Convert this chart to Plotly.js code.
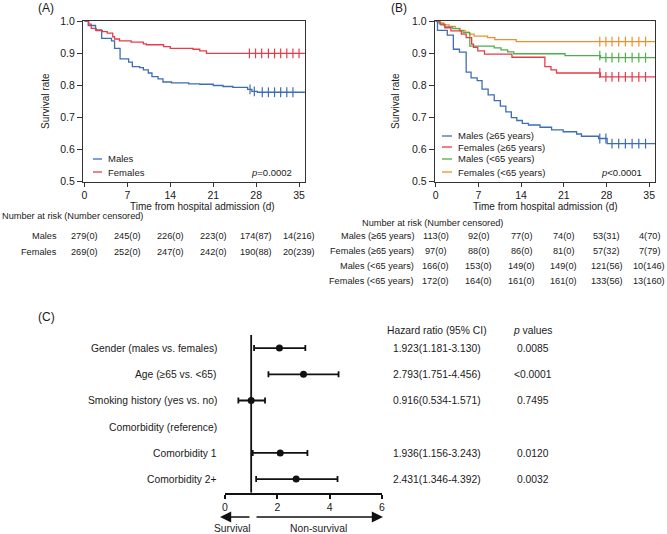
<!DOCTYPE html>
<html><head><meta charset="utf-8">
<script src="https://cdn.plot.ly/plotly-3.0.1.min.js"></script>
<style>html,body{margin:0;padding:0;background:#fff;}#chart{width:667px;height:534px;}</style>
</head><body><div id="chart"></div>
<script>
// ---------- Panel A data ----------
const daysTicks = [0, 7, 14, 21, 28, 35];
const aMalesT = [0, 0.6, 1.8, 2.8, 4.4, 4.9, 5.8, 7.2, 7.8, 9.0, 9.6, 10.4, 11.0, 12.0, 12.8, 14.2, 17.0, 18.8, 21.0, 22.6, 24.2, 26.6, 27.3, 28.2];
const aMalesS = [1.0, 0.986, 0.972, 0.946, 0.938, 0.915, 0.882, 0.872, 0.858, 0.855, 0.848, 0.838, 0.827, 0.82, 0.81, 0.807, 0.804, 0.803, 0.799, 0.796, 0.793, 0.787, 0.781, 0.778];
const aFemT = [0, 0.7, 1.1, 1.9, 2.9, 3.7, 4.6, 4.9, 5.7, 7.6, 9.6, 10.1, 12.9, 14.0, 17.7, 18.8, 19.9];
const aFemS = [1.0, 0.99, 0.977, 0.97, 0.967, 0.962, 0.951, 0.944, 0.938, 0.934, 0.929, 0.926, 0.92, 0.915, 0.912, 0.907, 0.899];
const aMalesCens = [27.0, 27.7, 29.0, 30.0, 31.0, 32.0, 33.0, 34.0];
const aFemCens = [26.9, 27.9, 28.9, 30.0, 31.0, 32.0, 33.0, 34.0, 35.0];
const aGroups = ["Males", "Females"];
const aRisk = [["279(0)", "245(0)", "226(0)", "223(0)", "174(87)", "14(216)"],
               ["269(0)", "252(0)", "247(0)", "242(0)", "190(88)", "20(239)"]];

// ---------- Panel B data ----------
const bM65T = [0, 0.3, 1.9, 2.9, 3.9, 5.0, 5.8, 6.8, 7.6, 8.6, 9.6, 10.6, 11.5, 12.4, 13.3, 14.2, 15.2, 17.1, 19.0, 20.9, 23.1, 23.9, 26.7, 28.1];
const bM65S = [1.0, 0.971, 0.956, 0.912, 0.903, 0.841, 0.823, 0.814, 0.788, 0.770, 0.752, 0.735, 0.717, 0.699, 0.690, 0.681, 0.676, 0.669, 0.661, 0.655, 0.648, 0.641, 0.634, 0.618];
const bF65T = [0, 0.7, 1.5, 2.5, 4.2, 5.0, 5.9, 6.2, 6.9, 8.0, 12.5, 17.9, 18.9, 19.8, 27.0];
const bF65S = [1.0, 0.990, 0.979, 0.969, 0.959, 0.948, 0.928, 0.918, 0.907, 0.897, 0.887, 0.858, 0.848, 0.838, 0.826];
const bMyT = [0, 0.3, 0.8, 1.5, 2.8, 3.9, 4.5, 5.6, 9.6, 10.7, 11.8, 12.8, 21.2, 27.0];
const bMyS = [1.0, 0.994, 0.988, 0.982, 0.976, 0.970, 0.964, 0.922, 0.916, 0.910, 0.904, 0.898, 0.892, 0.886];
const bFyT = [0, 0.7, 1.3, 2.2, 3.2, 4.0, 4.8, 5.5, 6.3, 8.5, 9.7, 13.2];
const bFyS = [1.0, 0.994, 0.988, 0.983, 0.977, 0.971, 0.965, 0.959, 0.953, 0.948, 0.942, 0.936];
const bCens = [26.9, 27.9, 28.9, 30.0, 31.1, 32.2, 33.3, 34.4];
const bGroups = ["Males (≥65 years)", "Females (≥65 years)", "Males (<65 years)", "Females (<65 years)"];
const bRisk = [["113(0)", "92(0)", "77(0)", "74(0)", "53(31)", "4(70)"],
               ["97(0)", "88(0)", "86(0)", "81(0)", "57(32)", "7(79)"],
               ["166(0)", "153(0)", "149(0)", "149(0)", "121(56)", "10(146)"],
               ["172(0)", "164(0)", "161(0)", "161(0)", "133(56)", "13(160)"]];

// ---------- Panel C data ----------
const cLabels = ["Gender (males vs. females)", "Age (≥65 vs. <65)", "Smoking history (yes vs. no)", "Comorbidity (reference)", "Comorbidity 1", "Comorbidity 2+"];
const cHR = [2.08, 3.0, 1.0, null, 2.11, 2.72];
const cLow = [1.11, 1.66, 0.51, null, 1.06, 1.19];
const cHigh = [3.07, 4.34, 1.53, null, 3.15, 4.3];
const cHRText = ["1.923(1.181-3.130)", "2.793(1.751-4.456)", "0.916(0.534-1.571)", "", "1.936(1.156-3.243)", "2.431(1.346-4.392)"];
const cPText = ["0.0085", "<0.0001", "0.7495", "", "0.0120", "0.0032"];
const cTicks = [0, 2, 4, 6];

// ---------- helpers ----------
const W = 667, H = 534;
const px = v => v / W;
const py = v => 1 - v / H;
const FONT = "Liberation Sans, Arial, Helvetica, sans-serif";
const TXT = "#1a1a1a";
const BLUE = "#3d6db5", RED = "#e63b4b", GREEN = "#4fae4a", ORANGE = "#f28e2b";
const endDay = 35.95;

function stepVal(T, S, t) { let v = S[0]; for (let i = 0; i < T.length; i++) if (T[i] <= t) v = S[i]; return v; }
function kmTrace(T, S, color, xa, ya) {
  return {x: T.concat([endDay]), y: S.concat([S[S.length - 1]]), type: "scatter", mode: "lines",
    line: {shape: "hv", color: color, width: 1.3}, xaxis: xa, yaxis: ya, showlegend: false, hoverinfo: "skip"};
}
function censTrace(T, S, C, color, xa, ya) {
  return {x: C, y: C.map(t => stepVal(T, S, t)), type: "scatter", mode: "markers",
    marker: {symbol: "line-ns", size: 7, line: {color: color, width: 1.2}}, xaxis: xa, yaxis: ya,
    showlegend: false, hoverinfo: "skip", cliponaxis: false};
}

const traces = [
  kmTrace(aMalesT, aMalesS, BLUE, "x", "y"), kmTrace(aFemT, aFemS, RED, "x", "y"),
  censTrace(aMalesT, aMalesS, aMalesCens, BLUE, "x", "y"), censTrace(aFemT, aFemS, aFemCens, RED, "x", "y"),
  kmTrace(bFyT, bFyS, ORANGE, "x2", "y2"), kmTrace(bMyT, bMyS, GREEN, "x2", "y2"),
  kmTrace(bF65T, bF65S, RED, "x2", "y2"), kmTrace(bM65T, bM65S, BLUE, "x2", "y2"),
  censTrace(bFyT, bFyS, bCens, ORANGE, "x2", "y2"), censTrace(bMyT, bMyS, bCens, GREEN, "x2", "y2"),
  censTrace(bF65T, bF65S, bCens, RED, "x2", "y2"), censTrace(bM65T, bM65S, bCens, BLUE, "x2", "y2")
];
const rowIdx = cLabels.map((_, i) => i);
const keep = rowIdx.filter(i => cHR[i] !== null);
traces.push({
  x: keep.map(i => cHR[i]), y: keep.map(i => i), type: "scatter", mode: "markers",
  marker: {symbol: "circle", size: 7, color: "#111"},
  error_x: {type: "data", symmetric: false, array: keep.map(i => cHigh[i] - cHR[i]),
            arrayminus: keep.map(i => cHR[i] - cLow[i]), color: "#111", thickness: 1.8, width: 3},
  xaxis: "x3", yaxis: "y3", showlegend: false, hoverinfo: "skip", cliponaxis: false
});

const kmAxisX = (dom, rng, anchor) => ({domain: dom, range: rng, anchor: anchor, tickvals: daysTicks,
  ticks: "outside", ticklen: 4, tickwidth: 1, tickcolor: "#333", showline: true, mirror: true,
  linecolor: "#333", linewidth: 1, showgrid: false, zeroline: false,
  tickfont: {family: FONT, size: 10.5, color: TXT}});
const kmAxisY = (anchor) => ({domain: [py(181.5), py(21)], range: [0.5, 1.0], anchor: anchor,
  tickvals: [0.5, 0.6, 0.7, 0.8, 0.9, 1.0], tickformat: ".1f", ticks: "outside", ticklen: 5, tickwidth: 1,
  tickcolor: "#333", showline: true, mirror: true, linecolor: "#333", linewidth: 1, showgrid: false,
  zeroline: false, tickfont: {family: FONT, size: 10.5, color: TXT}});

const ann = [];
const shapes = [];
function txt(text, x, y, opts) {
  ann.push(Object.assign({text: text, x: x, y: y, xref: "paper", yref: "paper", showarrow: false,
    xanchor: "left", yanchor: "middle", font: {family: FONT, size: 9.2, color: TXT}}, opts || {}));
}
// panel letters
txt("(A)", px(36), py(8), {font: {family: FONT, size: 12, color: TXT}});
txt("(B)", px(389), py(8), {font: {family: FONT, size: 12, color: TXT}});
txt("(C)", px(36), py(317), {font: {family: FONT, size: 12, color: TXT}});
// axis titles
txt("Survival rate", px(45), py(101), {xanchor: "center", textangle: -90, font: {family: FONT, size: 10, color: TXT}});
txt("Survival rate", px(395), py(101), {xanchor: "center", textangle: -90, font: {family: FONT, size: 10, color: TXT}});
txt("Time from hospital admission (d)", px(202), py(206), {xanchor: "center", font: {family: FONT, size: 10, color: TXT}});
txt("Time from hospital admission (d)", px(545), py(206), {xanchor: "center", font: {family: FONT, size: 10, color: TXT}});
// legends A
const aCols = [BLUE, RED];
aGroups.forEach((g, i) => {
  const yy = [159, 172][i];
  shapes.push({type: "line", xref: "paper", yref: "paper", x0: px(93), x1: px(102), y0: py(yy), y1: py(yy), line: {color: aCols[i], width: 1.3}});
  txt(g, px(106), py(yy), {font: {family: FONT, size: 9.5, color: TXT}});
});
txt("<i>p</i>=0.0002", px(294), py(172), {xanchor: "right", font: {family: FONT, size: 9.5, color: TXT}});
// legends B
const bCols = [BLUE, RED, GREEN, ORANGE];
bGroups.forEach((g, i) => {
  const yy = [136, 147, 159, 172][i];
  shapes.push({type: "line", xref: "paper", yref: "paper", x0: px(442), x1: px(452), y0: py(yy), y1: py(yy), line: {color: bCols[i], width: 1.3}});
  txt(g, px(456), py(yy), {font: {family: FONT, size: 9.5, color: TXT}});
});
txt("<i>p</i>&lt;0.0001", px(644), py(172), {xanchor: "right", font: {family: FONT, size: 9.5, color: TXT}});
// risk tables
txt("Number at risk (Number censored)", px(0), py(216));
aGroups.forEach((g, i) => {
  const yy = [236, 252][i];
  txt(g, px(59), py(yy), {xanchor: "right"});
  daysTicks.forEach((d, j) => txt(aRisk[i][j], d, py(yy), {xref: "x", xanchor: "center"}));
});
txt("Number at risk (Number censored)", px(360), py(223));
bGroups.forEach((g, i) => {
  const yy = [236, 251, 266, 281][i];
  txt(g, px(416), py(yy), {xanchor: "right"});
  daysTicks.forEach((d, j) => txt(bRisk[i][j], d, py(yy), {xref: "x2", xanchor: "center"}));
});
// forest plot text
const cRowsY = [348, 374, 400, 427, 453, 479];
const cF = {family: FONT, size: 10.3, color: TXT};
cLabels.forEach((l, i) => {
  txt(l, px(219), py(cRowsY[i]), {xanchor: "right", font: cF});
  if (cHRText[i]) txt(cHRText[i], px(437), py(cRowsY[i]), {xanchor: "center", font: cF});
  if (cPText[i]) txt(cPText[i].replace("<", "&lt;"), px(533), py(cRowsY[i]), {xanchor: "center", font: cF});
});
txt("Hazard ratio (95% CI)", px(437), py(330), {xanchor: "center", font: cF});
txt("<i>p</i> values", px(532), py(330), {xanchor: "center", font: cF});
txt("Survival", px(232), py(528), {xanchor: "center", font: cF});
txt("Non-survival", px(318), py(528), {xanchor: "center", font: cF});
// arrows
ann.push({x: px(220), y: py(517), xref: "paper", yref: "paper", ax: 31, ay: 0, text: "", showarrow: true,
  arrowhead: 2, arrowsize: 1.4, arrowwidth: 1.6, arrowcolor: "#111"});
ann.push({x: px(383), y: py(517), xref: "paper", yref: "paper", ax: -128, ay: 0, text: "", showarrow: true,
  arrowhead: 2, arrowsize: 1.4, arrowwidth: 1.6, arrowcolor: "#111"});
// reference line at HR = 1
shapes.push({type: "line", xref: "x3", yref: "y3", x0: 1, x1: 1, y0: -0.5, y1: 5.52, line: {color: "#111", width: 1.8}});

const layout = {
  width: W, height: H, margin: {l: 0, r: 0, t: 0, b: 0}, paper_bgcolor: "#fff", plot_bgcolor: "#fff",
  showlegend: false, font: {family: FONT, color: TXT},
  xaxis: kmAxisX([px(83), px(305)], [-0.25, 35.97], "y"),
  yaxis: kmAxisY("x"),
  xaxis2: kmAxisX([px(434.7), px(655)], [-0.16, 35.95], "y2"),
  yaxis2: kmAxisY("x2"),
  xaxis3: {domain: [px(225), px(382)], range: [0, 6], anchor: "y3", tickvals: cTicks, ticks: "outside",
    ticklen: 4, tickwidth: 1.8, tickcolor: "#111", showline: true, linecolor: "#111", linewidth: 1.8,
    showgrid: false, zeroline: false, tickfont: {family: FONT, size: 10.5, color: TXT}},
  yaxis3: {domain: [py(492.7), py(335)], range: [5.52, -0.5], anchor: "x3", visible: false,
    showgrid: false, zeroline: false},
  annotations: ann, shapes: shapes
};
Plotly.newPlot("chart", traces, layout, {staticPlot: true, displayModeBar: false});
</script></body></html>
